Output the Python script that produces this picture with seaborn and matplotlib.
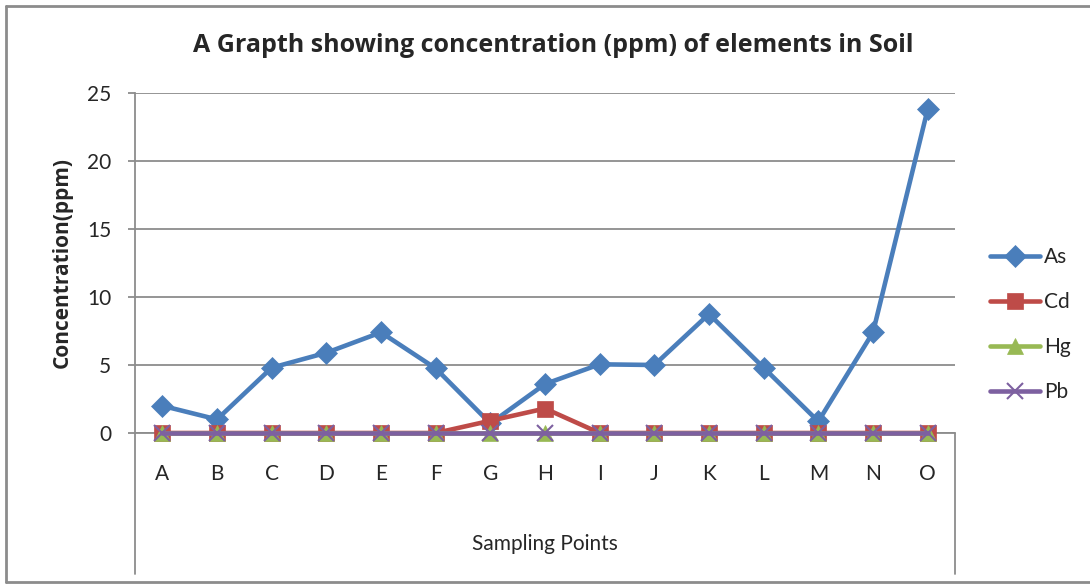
import pandas as pd
import matplotlib.pyplot as plt
import seaborn as sns
from matplotlib.lines import Line2D

# Data
points = ["A", "B", "C", "D", "E", "F", "G", "H", "I", "J", "K", "L", "M", "N", "O"]
as_vals = [2.0, 1.0, 4.8, 5.9, 7.4, 4.75, 0.7, 3.6, 5.05, 5.0, 8.75, 4.8, 0.85, 7.4, 23.8]
cd_vals = [0, 0, 0, 0, 0, 0, 0.9, 1.8, 0, 0, 0, 0, 0, 0, 0]
hg_vals = [0] * 15
pb_vals = [0] * 15
elements = ["As", "Cd", "Hg", "Pb"]
y_ticks = [0, 5, 10, 15, 20, 25]

rows = []
for name, vals in zip(elements, [as_vals, cd_vals, hg_vals, pb_vals]):
    for i, v in enumerate(vals):
        rows.append({"idx": i, "point": points[i], "value": v, "element": name})
df = pd.DataFrame(rows)

sns.set_style("white")
plt.rcParams["font.family"] = ["Lato", "DejaVu Sans"]
bold_font = ["Open Sans", "DejaVu Sans"]

colors = {"As": "#4A7EBB", "Cd": "#BE4B48", "Hg": "#98B954", "Pb": "#7D60A0"}
markers = {"As": "D", "Cd": "s", "Hg": "^", "Pb": "x"}
msizes = {"As": 11, "Cd": 12, "Hg": 11, "Pb": 11}
mew = {"As": 0.5, "Cd": 0.5, "Hg": 0.5, "Pb": 1.5}

fig = plt.figure(figsize=(10.9, 5.84), dpi=100)
ax = fig.add_axes([135 / 1090, 1 - 433 / 584, 820 / 1090, 340 / 584])

for name in elements:
    sub = df[df["element"] == name]
    sns.lineplot(data=sub, x="idx", y="value", ax=ax, color=colors[name],
                 marker=markers[name], markersize=msizes[name], linewidth=3.3,
                 markeredgecolor=colors[name], markeredgewidth=mew[name],
                 clip_on=False, legend=False)

ax.set_xlim(-0.5, 14.5)
ax.set_ylim(0, 25)
ax.set_yticks(y_ticks)
ax.set_xticks(range(len(points)))
ax.set_xticklabels(points)
ax.yaxis.grid(True, color="#8C8C8C", linewidth=1.3)
ax.set_axisbelow(True)
for s in ["top", "right", "bottom"]:
    ax.spines[s].set_visible(False)
ax.spines["left"].set_color("#8C8C8C")
ax.spines["left"].set_linewidth(1.3)
ax.tick_params(axis="y", which="major", length=5, color="#8C8C8C", width=1.3,
               labelsize=15, pad=12, left=True)
ax.tick_params(axis="x", length=0, labelsize=15, pad=22)

# category axis frame below the zero line
for xx in [0, 1]:
    ax.add_line(Line2D([xx, xx], [0, -0.415], transform=ax.transAxes,
                       color="#8C8C8C", linewidth=1.3, clip_on=False))
ax.add_line(Line2D([0, 1], [0, 0], transform=ax.transAxes,
                   color="#8C8C8C", linewidth=1.3, clip_on=False, zorder=1))

ax.set_xlabel("Sampling Points", fontsize=15, labelpad=36)
ax.set_ylabel("Concentration(ppm)", fontsize=15, fontweight="bold", family=bold_font,
              labelpad=10)
fig.text(553 / 1090, 1 - 45 / 584, "A Grapth showing concentration (ppm) of elements in Soil",
         ha="center", va="center", fontsize=18, fontweight="bold", family=bold_font)

handles = [Line2D([0], [0], color=colors[n], marker=markers[n], linewidth=3.3,
                  markersize=msizes[n], markeredgecolor=colors[n],
                  markeredgewidth=mew[n]) for n in elements]
ax.legend(handles, elements, loc="center left", bbox_to_anchor=(990 / 1090, 1 - 325 / 584),
          bbox_transform=fig.transFigure, frameon=False, fontsize=15,
          handlelength=2.4, handletextpad=0.2, labelspacing=1.2,
          borderpad=0, borderaxespad=0)

# chart area border (right edge falls outside the image)
for xs, ys in [([6, 6], [6, 582]), ([6, 1090], [6, 6]), ([6, 1090], [582, 582])]:
    fig.add_artist(Line2D([x / 1090 for x in xs], [1 - y / 584 for y in ys],
                          transform=fig.transFigure, color="#8C8C8C", linewidth=2))

fig.savefig("out.png", dpi=100)
